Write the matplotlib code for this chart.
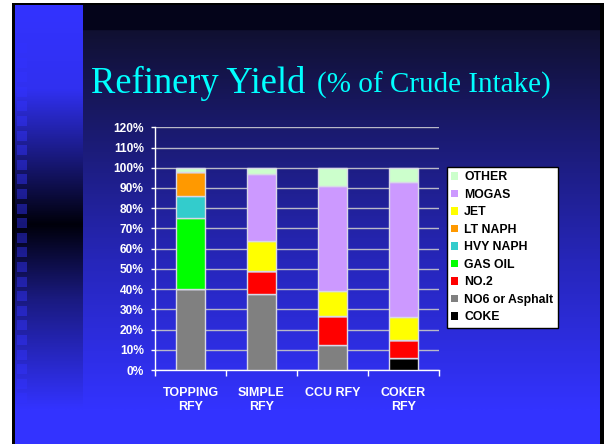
import numpy as np
import matplotlib
matplotlib.use("Agg")
import matplotlib.pyplot as plt
from matplotlib.patches import Rectangle, Patch

# data
categories = ['TOPPING\nRFY', 'SIMPLE\nRFY', 'CCU RFY', 'COKER\nRFY']
series = ['COKE', 'NO6 or Asphalt', 'NO.2', 'GAS OIL', 'HVY NAPH', 'LT NAPH', 'JET', 'MOGAS', 'OTHER']
coke = [0, 0, 0, 6]
no6 = [40, 37.5, 12.5, 0]
no2 = [0, 11.5, 14, 9]
gas_oil = [35, 0, 0, 0]
hvy_naph = [11, 0, 0, 0]
lt_naph = [12, 0, 0, 0]
jet = [0, 15, 12.5, 11]
mogas = [0, 33, 52, 67]
other = [2, 3, 9, 7]
values = [coke, no6, no2, gas_oil, hvy_naph, lt_naph, jet, mogas, other]
colors = ['#000000', '#808080', '#FF0000', '#00FF00', '#33CCCC', '#FF9900', '#FFFF00', '#CC99FF', '#CCFFCC']
yticks = list(range(0, 121, 10))

W, H = 604, 444
fig = plt.figure(figsize=(W / 100, H / 100), dpi=100)
fig.patch.set_facecolor('#3333FF')

# slide background
bg = fig.add_axes([0, 0, 1, 1])
bg.axis('off')

def vgrad(y0, y1, stops):
    ys = np.linspace(y0, y1, 200)
    pos = [s[0] for s in stops]
    rgb = np.stack([np.interp(ys, pos, [s[1][i] for s in stops]) for i in range(3)], axis=1)
    return rgb.reshape(-1, 1, 3) / 255.0

main = vgrad(29, 410, [(29, (16, 16, 48)), (130, (26, 26, 110)), (260, (38, 38, 185)), (410, (51, 51, 255))])
bg.imshow(main, extent=(15, 600, 410, 29), aspect='auto', zorder=1)
bg.add_patch(Rectangle((15, 5), 585, 24, color='#04041a', zorder=1))
strip = vgrad(5, 410, [(5, (51, 51, 255)), (90, (48, 48, 240)), (160, (24, 24, 120)), (225, (0, 0, 10)), (300, (26, 26, 128)), (410, (51, 51, 255))])
bg.imshow(strip, extent=(15, 83, 410, 5), aspect='auto', zorder=2)
for y in np.arange(43, 400, 14.6):
    bg.add_patch(Rectangle((17, y), 10, 10, color='#3333FF', alpha=0.45, lw=0, zorder=3))
# white margin and black slide border
bg.add_patch(Rectangle((0, 0), 12, H, color='white', lw=0, zorder=4))
bg.add_patch(Rectangle((0, 0), W, 3, color='white', lw=0, zorder=4))
bg.add_patch(Rectangle((12, 3), 3, H, color='black', lw=0, zorder=4))
bg.add_patch(Rectangle((12, 3), W, 2, color='black', lw=0, zorder=4))
bg.add_patch(Rectangle((600, 3), 4, H, color='black', lw=0, zorder=4))
bg.set_xlim(0, W)
bg.set_ylim(H, 0)

fig.text(91 / W, 1 - 93 / H, 'Refinery Yield', family='Liberation Serif', fontsize=26.3,
         color='#00FFFF', va='baseline', ha='left')
fig.text(317 / W, 1 - 93 / H, '(% of Crude Intake)', family='Liberation Serif', fontsize=21,
         color='#00FFFF', va='baseline', ha='left')

# chart
ax = fig.add_axes([155 / W, 1 - 370 / H, (439 - 155) / W, (370 - 127.3) / H])
ax.patch.set_alpha(0)
x = np.arange(len(categories))
bottom = np.zeros(len(categories))
for name, vals, c in zip(series, values, colors):
    vals = np.array(vals, dtype=float)
    ax.bar(x, vals, bottom=bottom, width=0.41, color=c, edgecolor='#D8D8E8', linewidth=1, zorder=3)
    bottom += vals

ax.set_xlim(-0.5, 3.5)
ax.set_ylim(0, 120)
ax.set_yticks(yticks)
ax.set_yticklabels(['%d%%' % v for v in yticks])
ax.yaxis.grid(True, color='#B8B8C8', linewidth=1)
ax.set_axisbelow(True)
ax.set_xticks(x)
ax.set_xticklabels(categories)
ax.set_xticks(np.arange(-0.5, 4, 1), minor=True)
ax.tick_params(axis='x', which='major', length=0, pad=12)
ax.tick_params(axis='x', which='minor', length=4, width=1, color='white', direction='out')
ax.tick_params(axis='y', length=3, width=1, color='white', pad=5)
for lab in ax.get_xticklabels() + ax.get_yticklabels():
    lab.set_family('Liberation Sans')
    lab.set_weight('bold')
    lab.set_color('white')
for lab in ax.get_xticklabels():
    lab.set_fontsize(9)
    lab.set_linespacing(1.25)
for lab in ax.get_yticklabels():
    lab.set_fontsize(8.6)
for s in ['top', 'right']:
    ax.spines[s].set_visible(False)
for s in ['left', 'bottom']:
    ax.spines[s].set_color('white')
    ax.spines[s].set_linewidth(1)

handles = [Patch(facecolor=c, edgecolor='none') for c in colors][::-1]
leg = fig.legend(handles, series[::-1], loc='upper left', bbox_to_anchor=(447 / W, 1 - 167 / H),
                 prop={'family': 'Liberation Sans', 'weight': 'bold', 'size': 8.8},
                 frameon=True, fancybox=False, framealpha=1, edgecolor='black',
                 handlelength=0.55, handleheight=0.55, handletextpad=0.5, labelspacing=0.45,
                 borderpad=0.35, borderaxespad=0)
leg.get_frame().set_linewidth(1)

fig.savefig('out.png', dpi=100)
